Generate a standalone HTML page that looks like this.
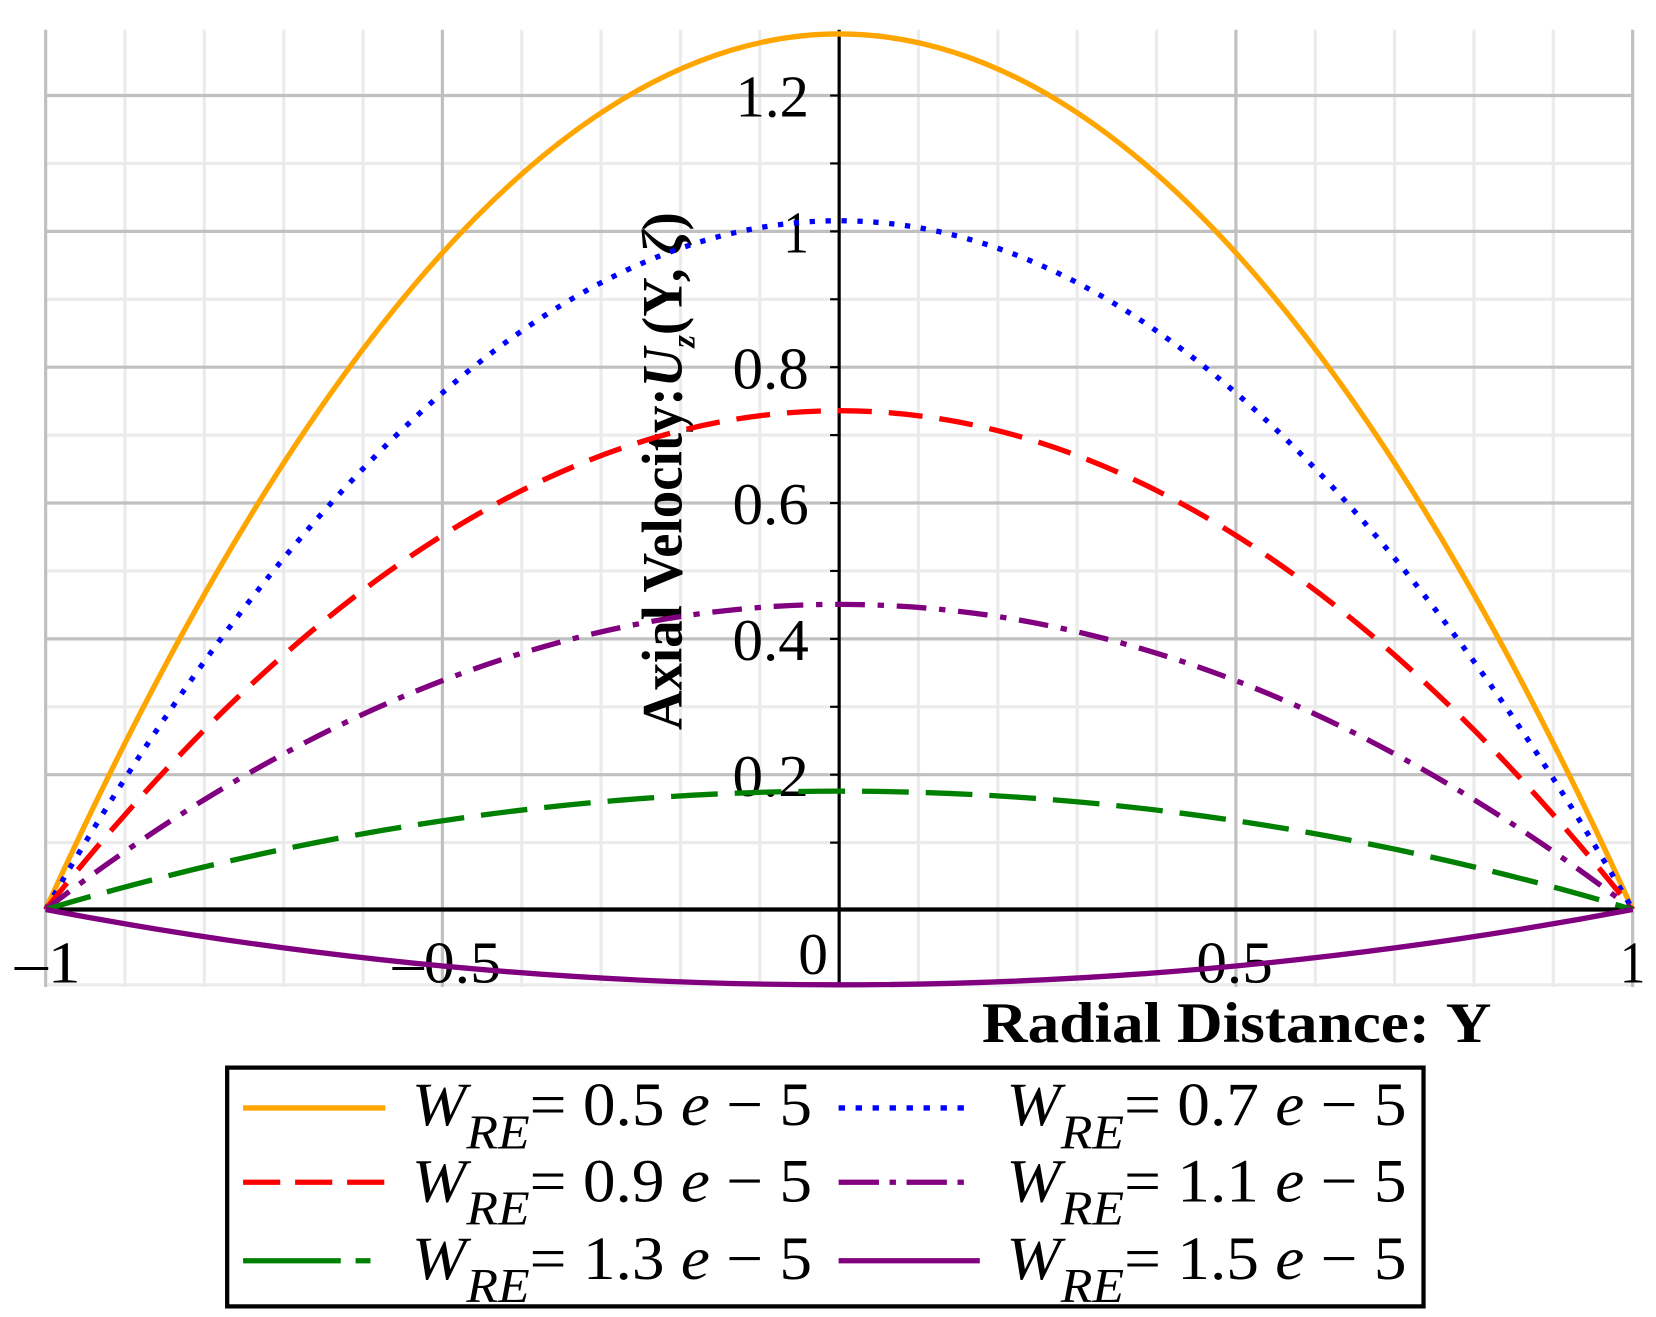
<!DOCTYPE html>
<html><head><meta charset="utf-8"><style>
html,body{margin:0;padding:0;background:#fff;width:1656px;height:1317px;overflow:hidden}
svg{display:block}
text{font-family:"Liberation Serif",serif}
</style></head><body>
<svg width="1656" height="1317" viewBox="0 0 1560 1241" preserveAspectRatio="none" xmlns="http://www.w3.org/2000/svg">
<rect width="1560" height="1241" fill="#fff"/>
<g stroke="#ebebeb" stroke-width="3">
<line x1="117.75" y1="28" x2="117.75" y2="930"/><line x1="192.5" y1="28" x2="192.5" y2="930"/><line x1="267.25" y1="28" x2="267.25" y2="930"/><line x1="342" y1="28" x2="342" y2="930"/>
<line x1="491.5" y1="28" x2="491.5" y2="930"/><line x1="566.25" y1="28" x2="566.25" y2="930"/><line x1="641" y1="28" x2="641" y2="930"/><line x1="715.75" y1="28" x2="715.75" y2="930"/>
<line x1="865.25" y1="28" x2="865.25" y2="930"/><line x1="940" y1="28" x2="940" y2="930"/><line x1="1014.75" y1="28" x2="1014.75" y2="930"/><line x1="1089.5" y1="28" x2="1089.5" y2="930"/>
<line x1="1239" y1="28" x2="1239" y2="930"/><line x1="1313.75" y1="28" x2="1313.75" y2="930"/><line x1="1388.5" y1="28" x2="1388.5" y2="930"/><line x1="1463.25" y1="28" x2="1463.25" y2="930"/>
<line x1="43" y1="928" x2="1538" y2="928"/><line x1="43" y1="794" x2="1538" y2="794"/><line x1="43" y1="666" x2="1538" y2="666"/><line x1="43" y1="538" x2="1538" y2="538"/>
<line x1="43" y1="410" x2="1538" y2="410"/><line x1="43" y1="282" x2="1538" y2="282"/><line x1="43" y1="154" x2="1538" y2="154"/>
</g>
<g stroke="#c0c0c0" stroke-width="3">
<line x1="43" y1="28" x2="43" y2="930"/><line x1="416.75" y1="28" x2="416.75" y2="930"/><line x1="1164.25" y1="28" x2="1164.25" y2="930"/><line x1="1538" y1="28" x2="1538" y2="930"/>
<line x1="43" y1="730" x2="1538" y2="730"/><line x1="43" y1="602" x2="1538" y2="602"/><line x1="43" y1="474" x2="1538" y2="474"/><line x1="43" y1="346" x2="1538" y2="346"/><line x1="43" y1="218" x2="1538" y2="218"/><line x1="43" y1="90" x2="1538" y2="90"/>
</g>
<line x1="790.5" y1="28" x2="790.5" y2="930" stroke="#000" stroke-width="3"/>
<line x1="43" y1="857" x2="1538" y2="857" stroke="#000" stroke-width="4"/>
<g stroke="#000" stroke-width="2">
<line x1="782" y1="794" x2="790" y2="794"/><line x1="782" y1="730" x2="790" y2="730"/><line x1="782" y1="666" x2="790" y2="666"/><line x1="782" y1="602" x2="790" y2="602"/><line x1="782" y1="538" x2="790" y2="538"/><line x1="782" y1="474" x2="790" y2="474"/><line x1="782" y1="410" x2="790" y2="410"/><line x1="782" y1="346" x2="790" y2="346"/><line x1="782" y1="282" x2="790" y2="282"/><line x1="782" y1="218" x2="790" y2="218"/><line x1="782" y1="154" x2="790" y2="154"/><line x1="782" y1="90" x2="790" y2="90"/>
</g>
<g font-size="56" fill="#000">
<text x="693" y="110" textLength="69" lengthAdjust="spacingAndGlyphs">1.2</text>
<text x="738" y="238" textLength="24" lengthAdjust="spacingAndGlyphs">1</text>
<text x="690" y="366" textLength="72" lengthAdjust="spacingAndGlyphs">0.8</text>
<text x="690" y="494" textLength="72" lengthAdjust="spacingAndGlyphs">0.6</text>
<text x="690" y="622" textLength="72" lengthAdjust="spacingAndGlyphs">0.4</text>
<text x="690" y="750" textLength="72" lengthAdjust="spacingAndGlyphs">0.2</text>
<text x="14" y="926" textLength="62" lengthAdjust="spacingAndGlyphs">–1</text>
<text x="370" y="926" textLength="102" lengthAdjust="spacingAndGlyphs">–0.5</text>
<text x="752" y="918" textLength="28" lengthAdjust="spacingAndGlyphs">0</text>
<text x="1127" y="926" textLength="72" lengthAdjust="spacingAndGlyphs">0.5</text>
<text x="1526" y="926" textLength="24" lengthAdjust="spacingAndGlyphs">1</text>
</g>
<text transform="translate(642,688) rotate(-90)" font-size="54" font-weight="bold" textLength="488" lengthAdjust="spacingAndGlyphs">Axial Velocity:<tspan font-style="italic">U</tspan><tspan font-size="32" dy="12" font-style="italic">z</tspan><tspan dy="-12">(</tspan>Υ, <tspan font-style="italic">ζ</tspan>)</text>
<text x="925" y="982" font-size="54" font-weight="bold" textLength="480" lengthAdjust="spacingAndGlyphs">Radial Distance: Υ</text>
<g fill="none" stroke-width="5">
<path d="M43,857 Q790.5,-793 1538,857" stroke="#ffa500"/>
<path d="M43,857 Q790.5,-441 1538,857" stroke="#0000ff" stroke-dasharray="5 10"/>
<path d="M43,857 Q790.5,-83 1538,857" stroke="#ff0000" stroke-dasharray="32 16"/>
<path d="M43,857 Q790.5,282 1538,857" stroke="#800080" stroke-dasharray="28 12 6 12"/>
<path d="M43,857 Q790.5,634 1538,857" stroke="#008000" stroke-dasharray="44 16"/>
<path d="M43,857 Q790.5,999 1538,857" stroke="#800080"/>
</g>
<rect x="214" y="1006" width="1127" height="225" fill="#fff" stroke="#000" stroke-width="4"/>
<g stroke-width="5">
<line x1="229" y1="1044" x2="363" y2="1044" stroke="#ffa500"/>
<line x1="790" y1="1044" x2="910" y2="1044" stroke="#0000ff" stroke-dasharray="6 10"/>
<line x1="229" y1="1114" x2="363" y2="1114" stroke="#ff0000" stroke-dasharray="35 14"/>
<line x1="790" y1="1114" x2="918" y2="1114" stroke="#800080" stroke-dasharray="38 10 6 10"/>
<line x1="229" y1="1188" x2="363" y2="1188" stroke="#008000" stroke-dasharray="92 14 14 14"/>
<line x1="790" y1="1188" x2="923" y2="1188" stroke="#800080"/>
</g>
<g font-size="58" fill="#000">
<text x="388" y="1060" textLength="377" lengthAdjust="spacingAndGlyphs"><tspan font-style="italic">W</tspan><tspan font-style="italic" font-size="46" dy="22">RE</tspan><tspan dy="-22">= 0.5 </tspan><tspan font-style="italic">e</tspan> − 5</text>
<text x="948" y="1060" textLength="377" lengthAdjust="spacingAndGlyphs"><tspan font-style="italic">W</tspan><tspan font-style="italic" font-size="46" dy="22">RE</tspan><tspan dy="-22">= 0.7 </tspan><tspan font-style="italic">e</tspan> − 5</text>
<text x="388" y="1132" textLength="377" lengthAdjust="spacingAndGlyphs"><tspan font-style="italic">W</tspan><tspan font-style="italic" font-size="46" dy="22">RE</tspan><tspan dy="-22">= 0.9 </tspan><tspan font-style="italic">e</tspan> − 5</text>
<text x="948" y="1132" textLength="377" lengthAdjust="spacingAndGlyphs"><tspan font-style="italic">W</tspan><tspan font-style="italic" font-size="46" dy="22">RE</tspan><tspan dy="-22">= 1.1 </tspan><tspan font-style="italic">e</tspan> − 5</text>
<text x="388" y="1205" textLength="377" lengthAdjust="spacingAndGlyphs"><tspan font-style="italic">W</tspan><tspan font-style="italic" font-size="46" dy="22">RE</tspan><tspan dy="-22">= 1.3 </tspan><tspan font-style="italic">e</tspan> − 5</text>
<text x="948" y="1205" textLength="377" lengthAdjust="spacingAndGlyphs"><tspan font-style="italic">W</tspan><tspan font-style="italic" font-size="46" dy="22">RE</tspan><tspan dy="-22">= 1.5 </tspan><tspan font-style="italic">e</tspan> − 5</text>
</g>
</svg>
</body></html>
